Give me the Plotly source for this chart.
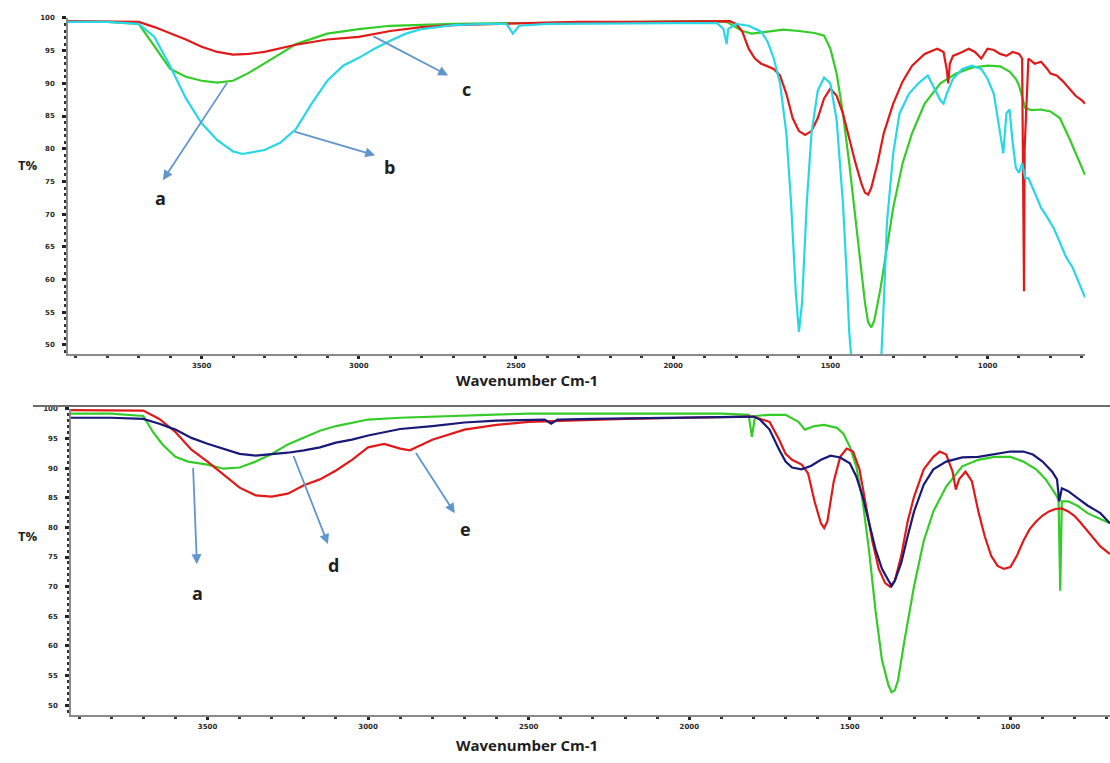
import plotly.graph_objects as go

# ---------------- upper panel: spectra a, b, c ----------------
up_a_wn = [3925, 3900, 3800, 3700, 3650, 3600, 3550, 3500, 3450, 3400, 3350, 3300, 3250, 3200,
           3100, 3000, 2900, 2700, 2500, 2300, 2100, 1900, 1830, 1780, 1750, 1700, 1650, 1600,
           1550, 1520, 1500, 1480, 1460, 1440, 1420, 1400, 1390, 1380, 1370, 1360, 1340, 1320,
           1300, 1270, 1240, 1200, 1150, 1100, 1050, 1000, 960, 930, 910, 900, 880, 860, 830,
           800, 770, 740, 720, 700, 690]
up_a_t = [99.4, 99.4, 99.4, 99.1, 95.7, 92.2, 91.0, 90.4, 90.1, 90.4, 91.6, 93.0, 94.5, 96.0,
          97.6, 98.3, 98.8, 99.1, 99.2, 99.4, 99.4, 99.5, 99.4, 98.0, 97.6, 97.9, 98.2, 98.0,
          97.7, 97.3, 95.3, 91.5, 85.4, 77.8, 69.5, 61.1, 56.5, 53.5, 52.7, 53.8, 58.8, 64.9,
          71.0, 77.8, 82.4, 86.9, 90.0, 91.5, 92.4, 92.7, 92.6, 91.8, 90.7, 89.7, 86.2, 85.9, 86.0,
          85.7, 84.7, 81.6, 79.3, 77.1, 76.0]

up_b_wn = [3925, 3900, 3800, 3700, 3650, 3600, 3550, 3500, 3450, 3400, 3370, 3300, 3250, 3200,
           3150, 3100, 3050, 3000, 2950, 2900, 2850, 2800, 2700, 2600, 2530, 2510, 2490, 2400,
           2200, 2000, 1860, 1840, 1830, 1825, 1800, 1760, 1720, 1700, 1680, 1660, 1640, 1625,
           1610, 1600, 1590, 1575, 1560, 1540, 1520, 1500, 1480, 1460, 1450, 1440, 1430, 1340,
           1330, 1320, 1300, 1280, 1250, 1220, 1190, 1170, 1150, 1140, 1130, 1110, 1080, 1050,
           1020, 1000, 980, 960, 950, 940, 930, 920, 910, 900, 890, 880, 870, 850, 830, 810,
           790, 770, 750, 730, 710, 690]
up_b_t = [99.4, 99.4, 99.4, 99.1, 97.1, 92.6, 87.7, 83.9, 81.3, 79.6, 79.2, 79.8, 80.9, 83.0,
          86.9, 90.4, 92.7, 93.9, 95.3, 96.5, 97.6, 98.3, 98.9, 99.1, 99.1, 97.6, 98.8, 99.1,
          99.2, 99.2, 99.2, 98.3, 96.0, 98.3, 99.1, 98.8, 97.9, 96.4, 93.8, 90.0, 82.4, 71.7,
          58.1, 52.0, 56.5, 71.7, 82.4, 88.9, 90.9, 90.0, 84.4, 71.7, 62.6, 52.0, 46.0, 46.0,
          56.5, 68.7, 79.3, 85.4, 88.4, 90.0, 91.2, 89.2, 87.4, 86.9, 88.4, 90.7, 92.2, 92.7,
          92.2, 90.7, 88.4, 82.4, 79.3, 85.4, 86.0, 80.9, 77.1, 76.3, 77.8, 75.5, 75.5, 73.3,
          71.0, 69.5, 67.9, 65.7, 63.4, 61.9, 59.6, 57.3]

up_c_wn = [3925, 3900, 3800, 3700, 3650, 3600, 3550, 3500, 3450, 3400, 3350, 3300, 3250, 3200,
           3100, 3000, 2900, 2800, 2700, 2500, 2300, 2100, 1900, 1820, 1800, 1780, 1760, 1740,
           1720, 1700, 1680, 1660, 1640, 1620, 1600, 1580, 1560, 1540, 1520, 1500, 1480, 1460,
           1440, 1420, 1400, 1390, 1380, 1370, 1350, 1330, 1300, 1270, 1240, 1200, 1160, 1140,
           1130, 1125, 1120, 1110, 1080, 1060, 1040, 1020, 1000, 980, 960, 940, 920, 900, 890,
           886, 884, 882, 870, 850, 830, 810, 800, 780, 760, 740, 720, 700, 690]
up_c_t = [99.5, 99.5, 99.5, 99.4, 98.6, 97.7, 96.7, 95.6, 94.8, 94.4, 94.5, 94.8, 95.3, 95.9,
          96.7, 97.1, 98.0, 98.6, 98.9, 99.2, 99.4, 99.4, 99.5, 99.5, 99.1, 97.9, 95.3, 93.8,
          93.0, 92.6, 92.2, 91.2, 88.4, 84.7, 82.7, 82.1, 82.7, 84.7, 87.7, 89.2, 88.1, 85.4,
          81.6, 77.8, 74.5, 73.3, 73.0, 74.0, 77.8, 82.4, 86.9, 90.3, 92.7, 94.5, 95.3, 94.8,
          92.2, 90.0, 93.0, 94.2, 94.8, 95.3, 94.8, 93.8, 95.3, 95.1, 94.5, 94.2, 94.8, 94.5, 93.8,
          70.0, 58.2, 80.0, 93.8, 93.0, 93.3, 92.2, 91.5, 91.2, 90.3, 89.2, 88.1, 87.4, 86.9]

# ---------------- lower panel: spectra a, d, e ----------------
lo_a_wn = [3925, 3900, 3800, 3700, 3670, 3640, 3600, 3560, 3500, 3450, 3400, 3350, 3300, 3250,
           3200, 3150, 3100, 3000, 2900, 2700, 2500, 2300, 2100, 1900, 1815, 1805, 1795, 1750,
           1700, 1660, 1640, 1610, 1580, 1540, 1520, 1500, 1480, 1460, 1440, 1420, 1400, 1380,
           1370, 1360, 1350, 1330, 1300, 1270, 1240, 1200, 1150, 1100, 1050, 1000, 960, 920,
           890, 870, 855, 850, 845, 840, 820, 790, 760, 720, 690]
lo_a_t = [99.2, 99.2, 99.2, 98.8, 96.1, 94.0, 91.9, 91.1, 90.6, 89.9, 90.1, 91.1, 92.4, 94.0,
          95.1, 96.3, 97.1, 98.2, 98.5, 98.8, 99.2, 99.2, 99.2, 99.2, 99.0, 95.3, 98.8, 99.0,
          99.0, 97.8, 96.5, 97.1, 97.3, 96.8, 95.8, 93.6, 90.3, 84.4, 76.0, 65.9, 57.6, 53.4,
          52.2, 52.5, 54.2, 60.9, 70.1, 77.7, 82.7, 86.9, 90.3, 91.4, 91.9, 91.9, 91.1, 89.8,
          88.1, 86.4, 85.2, 84.4, 69.3, 84.4, 84.4, 83.6, 82.4, 81.4, 80.7]

lo_d_wn = [3925, 3900, 3800, 3700, 3650, 3600, 3550, 3500, 3450, 3400, 3350, 3300, 3250, 3200,
           3150, 3100, 3050, 3000, 2900, 2800, 2700, 2600, 2500, 2450, 2430, 2410, 2300, 2100,
           1900, 1800, 1780, 1750, 1720, 1700, 1680, 1650, 1620, 1590, 1560, 1530, 1500, 1480,
           1460, 1440, 1420, 1400, 1380, 1370, 1360, 1340, 1320, 1300, 1270, 1240, 1200, 1150,
           1100, 1050, 1000, 960, 930, 900, 870, 855, 848, 840, 820, 790, 760, 720, 690]
lo_d_t = [98.5, 98.5, 98.5, 98.3, 97.5, 96.5, 95.1, 94.1, 93.3, 92.4, 92.1, 92.3, 92.6, 93.0,
          93.5, 94.3, 94.8, 95.5, 96.6, 97.1, 97.7, 98.0, 98.2, 98.2, 97.5, 98.2, 98.3, 98.5,
          98.7, 98.7, 98.2, 96.5, 93.1, 91.1, 90.1, 89.8, 90.4, 91.4, 92.1, 91.8, 90.8, 88.6,
          85.2, 81.0, 76.3, 73.0, 71.0, 70.1, 71.0, 74.0, 78.5, 82.7, 87.2, 89.8, 91.1, 91.8,
          91.9, 92.4, 92.8, 92.8, 92.3, 91.1, 89.4, 88.1, 84.4, 86.6, 86.1, 84.9, 83.7, 82.4, 80.7]

lo_e_wn = [3925, 3900, 3800, 3700, 3650, 3600, 3550, 3500, 3450, 3400, 3350, 3300, 3250, 3200,
           3150, 3100, 3050, 3000, 2950, 2900, 2870, 2800, 2700, 2600, 2500, 2400, 2200, 2000,
           1800, 1750, 1720, 1700, 1680, 1650, 1630, 1610, 1590, 1580, 1570, 1550, 1530, 1510,
           1490, 1470, 1450, 1430, 1410, 1390, 1375, 1360, 1340, 1320, 1300, 1270, 1240, 1220,
           1200, 1180, 1170, 1160, 1140, 1120, 1100, 1080, 1060, 1040, 1020, 1000, 980, 960,
           940, 920, 900, 880, 860, 840, 820, 800, 780, 760, 740, 720, 690]
lo_e_t = [99.8, 99.8, 99.8, 99.7, 98.3, 96.1, 93.1, 91.1, 88.9, 86.7, 85.4, 85.2, 85.7, 87.1,
          88.1, 89.6, 91.4, 93.5, 94.1, 93.3, 93.0, 94.8, 96.5, 97.3, 97.8, 98.0, 98.3, 98.5,
          98.7, 97.8, 94.8, 92.4, 91.4, 90.6, 89.1, 84.4, 80.7, 79.9, 81.0, 87.8, 91.9, 93.3,
          92.8, 89.8, 83.6, 77.7, 73.0, 70.6, 70.0, 71.0, 75.2, 81.0, 85.2, 89.8, 91.9, 92.8,
          92.3, 89.4, 86.4, 88.1, 89.4, 87.8, 82.7, 78.5, 75.2, 73.5, 73.0, 73.3, 75.2, 77.7,
          79.7, 81.0, 82.0, 82.7, 83.1, 83.2, 82.7, 81.9, 80.7, 79.4, 78.0, 76.8, 75.5]

# axis settings
wn_range = [3925, 690]
wn_ticks = [3500, 3000, 2500, 2000, 1500, 1000]
t_ticks = [100, 95, 90, 85, 80, 75, 70, 65, 60, 55, 50]
up_t_range = [48.6, 100]
lo_t_range = [48.3, 100]

GREEN = "rgb(52,205,40)"
CYAN = "rgb(40,215,230)"
RED = "rgb(225,25,25)"
NAVY = "rgb(25,25,120)"
ARROW = "rgb(95,150,205)"
INK = "#1e1e1e"

fig = go.Figure()

def spectrum(x, y, color, xa, ya):
    fig.add_trace(go.Scatter(x=x, y=y, mode="lines", xaxis=xa, yaxis=ya,
                             line=dict(color=color, width=2.2), hoverinfo="skip",
                             showlegend=False))

spectrum(up_a_wn, up_a_t, GREEN, "x", "y")
spectrum(up_c_wn, up_c_t, RED, "x", "y")
spectrum(up_b_wn, up_b_t, CYAN, "x", "y")

spectrum(lo_a_wn, lo_a_t, GREEN, "x2", "y2")
spectrum(lo_e_wn, lo_e_t, RED, "x2", "y2")
spectrum(lo_d_wn, lo_d_t, NAVY, "x2", "y2")

tickfont = dict(family="DejaVu Sans", size=7, color="#2a2a2a", weight="bold")
xcommon = dict(range=wn_range, tickvals=wn_ticks, ticktext=[str(v) for v in wn_ticks],
               showline=True, linecolor="#8a8a8a", linewidth=1.5, ticks="outside",
               ticklen=3, tickwidth=3, tickcolor="#222", showgrid=False, zeroline=False,
               tickfont=tickfont, ticklabelstandoff=1,
               minor=dict(dtick=100, tick0=1000, ticks="outside", ticklen=2, tickwidth=2.5,
                          tickcolor="#333", showgrid=False))
ycommon = dict(tickvals=t_ticks, ticktext=[str(v) for v in t_ticks], showline=True,
               linecolor="#8a8a8a", linewidth=1.5, ticks="outside", ticklen=4, tickwidth=2.5,
               tickcolor="#222", showgrid=False, zeroline=False, tickfont=tickfont,
               ticklabelstandoff=6,
               minor=dict(dtick=1, ticks="outside", ticklen=2, tickwidth=2.5,
                          tickcolor="#333", showgrid=False))

fig.update_layout(
    width=1110, height=763, margin=dict(l=0, r=0, t=0, b=0),
    paper_bgcolor="white", plot_bgcolor="white",
    xaxis=dict(domain=[68 / 1110, 1085 / 1110], anchor="y", **xcommon),
    yaxis=dict(domain=[1 - 352 / 763, 1 - 14 / 763], anchor="x", range=up_t_range, **ycommon),
    xaxis2=dict(domain=[71 / 1110, 1.0], anchor="y2", **xcommon),
    yaxis2=dict(domain=[1 - 715 / 763, 1 - 407 / 763], anchor="x2", range=lo_t_range, **ycommon),
)

# separator line above the lower panel
fig.add_shape(type="line", xref="paper", yref="paper", x0=33 / 1110, x1=1.0,
              y0=1 - 404 / 763, y1=1 - 404 / 763, line=dict(color="#6e6e66", width=2))

titlefont = dict(family="Open Sans", size=15, color=INK, weight="bold")
for ypx in (378, 745):
    fig.add_annotation(xref="paper", yref="paper", x=527 / 1110, y=1 - ypx / 763,
                       text="Wavenumber Cm-1", showarrow=False, font=titlefont,
                       xanchor="center", yanchor="middle")
for ypx in (162, 535):
    fig.add_annotation(xref="paper", yref="paper", x=28 / 1110, y=1 - ypx / 763,
                       text="T%", showarrow=False, font=dict(family="Open Sans", size=13,
                                                             color=INK, weight="bold"),
                       xanchor="center", yanchor="middle")

# pointer arrows: tail on the curve, head next to the letter
pointers = [
    ("x", "y", 3416, 90.3, 3623, 75.2, "a", 3632, 72.4),
    ("x", "y", 3209, 82.7, 2948, 79.0, "b", 2901, 77.2),
    ("x", "y", 2958, 97.3, 2716, 91.2, "c", 2656, 89.2),
    ("x2", "y2", 3545, 90.3, 3533, 73.8, "a", 3530, 69.0),
    ("x2", "y2", 3234, 92.3, 3125, 77.2, "d", 3109, 73.6),
    ("x2", "y2", 2854, 92.8, 2730, 82.4, "e", 2698, 79.7),
]
for xa, ya, tx, ty, hx, hy, label, lx, ly in pointers:
    fig.add_annotation(xref=xa, yref=ya, axref=xa, ayref=ya, x=hx, y=hy, ax=tx, ay=ty,
                       text="", showarrow=True, arrowhead=2, arrowsize=1.1,
                       arrowwidth=1.8, arrowcolor=ARROW)
    fig.add_annotation(xref=xa, yref=ya, x=lx, y=ly, text=label, showarrow=False,
                       font=dict(family="Open Sans", size=18, color=INK, weight="bold"))

fig.write_html("out.html")
